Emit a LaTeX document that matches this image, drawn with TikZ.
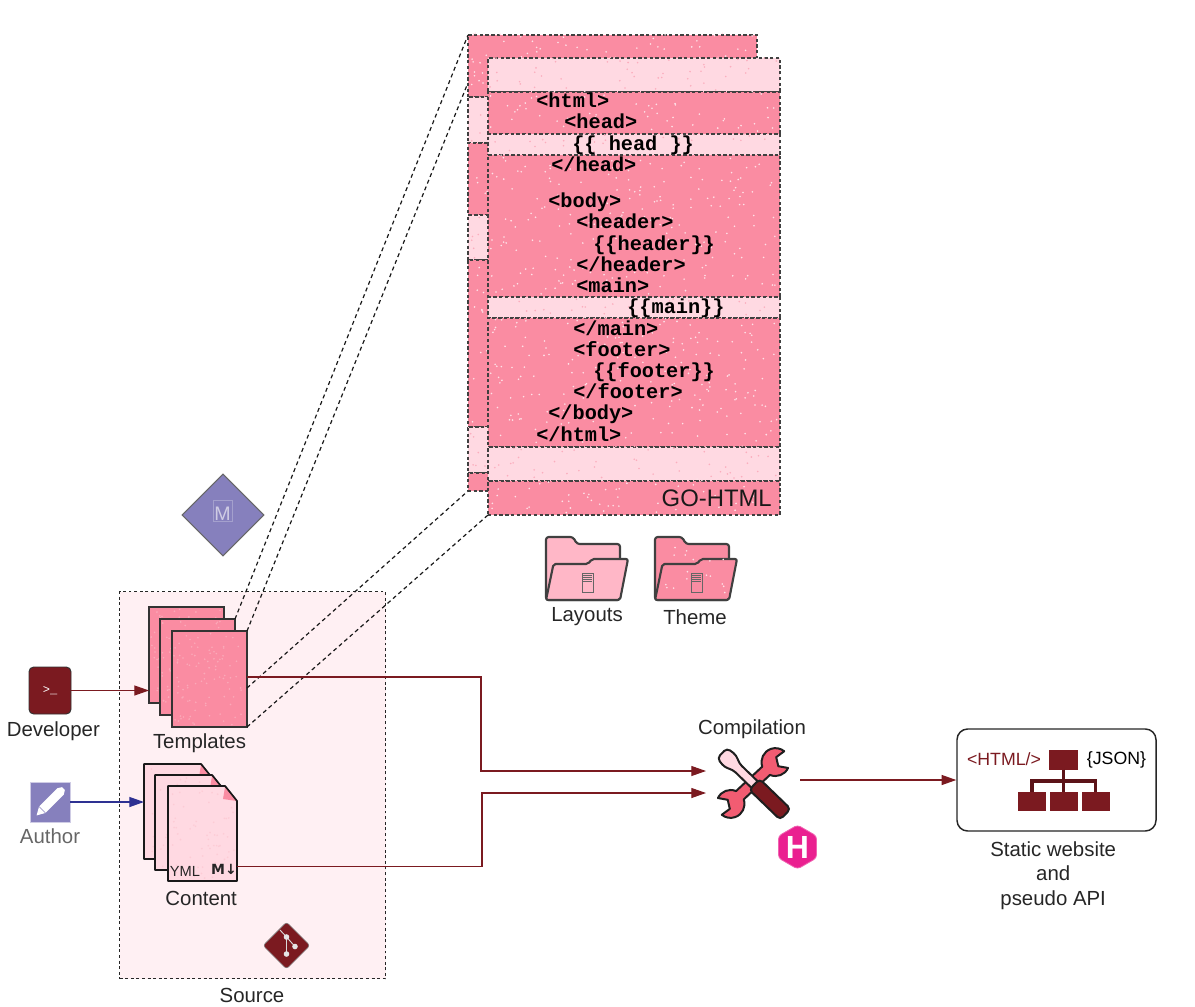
\documentclass[tikz,border=0pt]{standalone}
\usepackage{fontspec}
\setmainfont{Liberation Sans}
\setmonofont{Liberation Mono}
\usetikzlibrary{arrows.meta, positioning, shapes.geometric}

\definecolor{gopink}{HTML}{FA8CA2}
\definecolor{golight}{HTML}{FFD9E2}
\definecolor{foldpink}{HTML}{FFB7C7}
\definecolor{srcfill}{HTML}{FFF0F3}
\definecolor{maroon}{HTML}{7B1A20}
\definecolor{lavender}{HTML}{8680BD}
\definecolor{toolred}{HTML}{F25C72}
\definecolor{hugopink}{HTML}{EA2090}
\definecolor{authblue}{HTML}{2E3192}

\newcommand\unitpx{0.75pt}
% optional density, then x y w h colour
\newcommand\speckle[6][190]{%
  \pgfmathtruncatemacro\dotcount{#4/#1*#5}
  \foreach \i in {1,...,\dotcount}
    \fill[#6] ({#2+rnd*#4},{#3+rnd*#5}) circle (0.9);
}

\begin{document}
\begin{tikzpicture}[
    x=0.75pt, y=-0.75pt,
    lbl/.style={font=\fontsize{15.3}{18}\selectfont, text=black!85, inner sep=0pt},
    smalllbl/.style={font=\fontsize{13.3}{16}\selectfont, inner sep=0pt},
    codeline/.style={font=\fontsize{15.2}{18}\selectfont\ttfamily\bfseries, anchor=base west, inner sep=0pt},
    band/.style={rectangle, draw=black!75, dash pattern=on 2.5pt off 1.8pt,
                 line width=0.8pt, anchor=north west, inner sep=0pt, outer sep=0pt},
    sheet/.style={rectangle, draw=black!80, fill=gopink, line width=1.2pt, anchor=north west,
                  minimum width=75*\unitpx, minimum height=96*\unitpx, inner sep=0pt, outer sep=0pt},
    docbox/.style={rectangle, anchor=north west, minimum width=69*\unitpx,
                   minimum height=95*\unitpx, inner sep=0pt, outer sep=0pt},
    doc/.style={draw=black!90, fill=golight, line width=1.2pt, line join=round},
    link/.style={maroon, line width=0.9pt, -{Triangle[length=11pt, width=7.5pt]}},
    authlink/.style={link, color=authblue},
    ghost/.style={dash pattern=on 3pt off 2.4pt, line width=0.9pt, black!90},
    treebox/.style={rectangle, fill=maroon, inner sep=0pt, outer sep=0pt},
    treeline/.style={maroon!75!black, line width=2.8pt},
    pics/folder/.style={code={
        \draw[black!75, fill=#1, line width=1.6pt, rounded corners=2pt, line join=round]
            (0,0) -- (0,-63) -- (27,-63) -- (31,-56) -- (74,-56) -- (74,0) -- cycle;
        \draw[black!75, fill=#1, line width=1.6pt, rounded corners=1.5pt, line join=round]
            (0,0) -- (7.5,-36) -- (42,-36) -- (46,-41) -- (82,-41) -- (74,0) -- cycle;
        \draw[black!60, line width=0.5pt] (36,-27) rectangle (47,-8);
        \foreach \ln in {-25,-23,-21,-19}
            \draw[black!60, line width=0.5pt] (37,\ln) -- (46,\ln);
    }},
]
    \useasboundingbox (0,0) rectangle (1195,1006);
    \pgfmathsetseed{11}

    % Source area
    \node[rectangle, draw=black!85, fill=srcfill, dash pattern=on 2.2pt off 2pt,
          line width=1pt, anchor=north west, inner sep=0pt,
          minimum width=266*\unitpx, minimum height=387*\unitpx] (source) at (119,591) {};
    \node[lbl] (sourcelbl) at (252,995) {Source};

    % Back sheet
    \foreach \ypos/\hgt/\col/\dotcol/\nm in {35/62/gopink/white!75!gopink/b1, 97/46/golight/gopink!70/b2,
            143/72/gopink/white!75!gopink/b3, 215/45/golight/gopink!70/b4, 260/167/gopink/white!75!gopink/b5,
            427/46/golight/gopink!70/b6, 473/18/gopink/white!75!gopink/b7} {
        \node[band, fill=\col, minimum width=289*\unitpx, minimum height=\hgt*\unitpx] (\nm) at (468,\ypos) {};
        \speckle{470}{\ypos+2}{285}{\hgt-4}{\dotcol}
    }

    % Front sheet
    \foreach \ypos/\hgt/\col/\dotcol/\nm in {58/34/golight/gopink!70/f1, 92/42/gopink/white!75!gopink/f2,
            134/21/golight/gopink!70/f3, 155/142/gopink/white!75!gopink/f4, 297/21/golight/gopink!70/f5,
            318/129/gopink/white!75!gopink/f6, 447/34/golight/gopink!70/f7, 481/34/gopink/white!75!gopink/f8} {
        \node[band, fill=\col, minimum width=292*\unitpx, minimum height=\hgt*\unitpx] (\nm) at (488,\ypos) {};
        \speckle{490}{\ypos+2}{288}{\hgt-4}{\dotcol}
    }

    \node[codeline] (cl1) at (536,107.5) {<html>};
    \node[codeline] (cl2) at (564,128.5) {<head>};
    \node[codeline] (cl3) at (572,150.5) {\{\{ head \}\}};
    \node[codeline] (cl4) at (551,171.5) {</head>};
    \node[codeline] (cl5) at (548,207.5) {<body>};
    \node[codeline] (cl6) at (576,228.5) {<header>};
    \node[codeline] (cl7) at (593,250.5) {\{\{header\}\}};
    \node[codeline] (cl8) at (576,271.5) {</header>};
    \node[codeline] (cl9) at (576,292.5) {<main>};
    \node[codeline] (cl10) at (627,313.5) {\{\{main\}\}};
    \node[codeline] (cl11) at (573,335.5) {</main>};
    \node[codeline] (cl12) at (573,356.5) {<footer>};
    \node[codeline] (cl13) at (593,377.5) {\{\{footer\}\}};
    \node[codeline] (cl14) at (573,398.5) {</footer>};
    \node[codeline] (cl15) at (548,419.5) {</body>};
    \node[codeline] (cl16) at (536,441.5) {</html>};
    \node[font=\fontsize{17.9}{20}\selectfont, text=black!90, anchor=east, inner sep=0pt] (gohtml) at (772,498) {GO-HTML};

    % Folders
    \pic (layoutsdir) at (546,600) {folder=foldpink};
    \pic (themedir) at (655,600) {folder=gopink};
    \speckle[120]{665}{547}{60}{15}{white!75!gopink}
    \speckle[120]{664}{569}{26}{27}{white!75!gopink}
    \speckle[120]{704}{569}{23}{27}{white!75!gopink}
    \node[lbl] (layoutslbl) at (587,616.5) {Layouts};
    \node[lbl] (themelbl) at (695,617) {Theme};

    % Merge diamond
    \node[diamond, aspect=1, draw=black!60, fill=lavender, line width=0.8pt, inner sep=0pt,
          minimum size=82*\unitpx] (merge) at (223,515) {};
    \node[rectangle, draw=white!25!lavender, line width=0.2pt, minimum width=19*\unitpx, minimum height=21*\unitpx,
          inner sep=0pt] (mergebox) at (222.5,511) {};
    \node[font=\fontsize{14.7}{16}\selectfont, text=white!60!lavender, inner sep=0pt] (mergelbl) at (222.5,513.5) {M};

    % Templates
    \foreach \x/\y/\nm in {149/607/tpl1, 160/619/tpl2, 172/631/tpl3} {
        \node[sheet] (\nm) at (\x,\y) {};
        \speckle[70]{\x+2}{\y+2}{71}{92}{white!25!gopink}
    }
    \node[lbl, below=4.5pt of tpl3, xshift=-7.5pt] (tpllbl) {Templates};

    % Content
    \foreach \x/\y/\nm in {144/764/cnt1, 155/775/cnt2, 168/786/cnt3} {
        \node[docbox] (\nm) at (\x,\y) {};
        \draw[doc] (\x,\y) -- ++(57,0) -- ++(12,15) -- ++(0,80) -- ++(-69,0) -- cycle;
        \speckle[90]{\x+3}{\y+17}{63}{75}{gopink!45}
        \speckle[90]{\x+3}{\y+3}{50}{14}{gopink!45}
        \fill[gopink] (\x+57,\y+1) -- (\x+69,\y+15) -- (\x+55,\y+13) -- cycle;
        \draw[black!90, line width=1.2pt] (\x+57,\y) -- (\x+69,\y+15);
    }
    \node[lbl, below=7.5pt of cnt3, xshift=-1pt] (cntlbl) {Content};
    \node[font=\fontsize{11}{12}\selectfont, text=black!85, inner sep=0pt] (yml) at (185,871) {YML};
    \node[font=\fontsize{10.5}{12}\selectfont, inner sep=0pt, text=black!85] (mdown) at (224,869)
        {\fontspec{DejaVu Sans Bold}M↓};

    % Git
    \node[diamond, aspect=1, fill=maroon, draw=black!50, rounded corners=2pt, inner sep=0pt,
          minimum size=47*\unitpx] (git) at (286.5,945.5) {};
    \draw[white!85!black, line width=0.7pt] (280,930) -- (286.5,937) -- (286.5,954) (286.5,937) -- (295,946.5);
    \fill[white!90!black] (286.5,937) circle (2.8) (286.5,954) circle (2.8) (295,946.5) circle (2.8);

    % People
    \node[rectangle, draw=black!80, fill=maroon, rounded corners=3.5pt, line width=0.7pt, inner sep=0pt,
          minimum width=42*\unitpx, minimum height=47*\unitpx, text=white,
          font=\fontsize{9}{10}\selectfont\ttfamily] (devicon) at (50,690.5) {>\_};
    \node[lbl, below=5.5pt of devicon, xshift=2.5pt] (devlbl) {Developer};
    \node[rectangle, fill=lavender, draw=white!60!lavender, line width=0.3pt, inner sep=0pt,
          minimum size=40*\unitpx] (authicon) at (50,802) {};
    \begin{scope}[shift={(50,802)}, rotate=45]
        \fill[white] (-19,0) -- (-11,-4.5) -- (15,-4.5) -- (19,-2) -- (19,2) -- (15,4.5) -- (-11,4.5) -- cycle;
        \draw[lavender, line width=0.4pt] (-11,-4.5) -- (-11,4.5);
    \end{scope}
    \node[lbl, text=black!60, below=5pt of authicon] (authlbl) {Author};

    % Compilation tools
    \node[rectangle, inner sep=0pt, outer sep=0pt, minimum width=94*\unitpx, minimum height=80*\unitpx] (comp) at (753,782) {};
    \node[lbl] (complbl) at (752,729.5) {Compilation};
    \begin{scope}[shift={(753,783)}, rotate=43, scale=0.93]
        \draw[black!88, fill=toolred, line width=1.5pt, line join=round]
            (-19.3,-6.1) -- (19.3,-6.1) arc[start angle=-156, end angle=-8, radius=15]
            -- (37.2,-3.33) -- (32.2,5.33) -- (38.6,13.9) arc[start angle=68, end angle=156, radius=15]
            -- (-19.3,6.1) arc[start angle=24, end angle=172, radius=15]
            -- (-37.2,3.33) -- (-32.2,-5.33) -- (-38.6,-13.9) arc[start angle=248, end angle=336, radius=15] -- cycle;
    \end{scope}
    \begin{scope}[shift={(753,783)}, rotate=-44]
        \draw[black!88, fill=golight, line width=1.5pt, rounded corners=3pt, line join=round]
            (6,-4.5) -- (-24,-4.5) -- (-31,-8.5) -- (-43,-7) -- (-43,7) -- (-31,8.5) -- (-24,4.5) -- (6,4.5) -- cycle;
        \draw[black!88, fill=maroon, line width=1.5pt, rounded corners=3pt] (2,-7.5) rectangle (45,7.5);
    \end{scope}
    \node[regular polygon, regular polygon sides=6, regular polygon rotate=30,
          fill=hugopink, draw=hugopink!70, line width=0.6pt,
          rounded corners=2.5pt, inner sep=0pt, minimum size=44*\unitpx, text=white,
          font=\fontsize{24}{26}\selectfont\bfseries] (hugo) at (797.5,847) {H};

    % Static website
    \node[rectangle, draw=black!85, rounded corners=8pt, line width=1.1pt, inner sep=0pt, fill=white,
          minimum width=199*\unitpx, minimum height=102*\unitpx] (site) at (1056.5,780) {};
    \node[smalllbl, text=maroon] (htmllbl) at (1004,759) {<HTML/>};
    \node[smalllbl, text=black] (jsonlbl) at (1116.5,760) {\{JSON\}};
    \node[treebox, minimum width=29*\unitpx, minimum height=20*\unitpx] (hubtop) at (1063.5,759.5) {};
    \draw[treeline] (hubtop.south) -- ++(0,22);
    \draw[treeline] (hubtop.south) -- ++(0,11.5) -- ++(-31.5,0) -- ++(0,11);
    \draw[treeline] (hubtop.south) -- ++(0,11.5) -- ++(32,0) -- ++(0,11);
    \node[treebox, minimum width=28*\unitpx, minimum height=19*\unitpx] (hubl) at (1032,801) {};
    \node[treebox, minimum width=28*\unitpx, minimum height=19*\unitpx] (hubm) at (1064,801) {};
    \node[treebox, minimum width=28*\unitpx, minimum height=19*\unitpx] (hubr) at (1095.5,801) {};
    \node[lbl, align=center, font=\fontsize{15.3}{18.4}\selectfont, below=7pt of site, xshift=-2.5pt] (sitelbl) {Static website\\and\\pseudo API};

    % Ghost lines to the sheets
    \coordinate (ghostend) at (467.5,84);
    \draw[ghost] (tpl2.north east) -- (b1.north west);
    \draw[ghost] (tpl3.north east) -- (ghostend);
    \draw[ghost] ([yshift=-6.75pt]tpl3.east) -- (b7.south west);
    \draw[ghost] (tpl3.south east) -- (f8.south west);

    % Connectors
    \coordinate (jogtop) at (481,771);
    \coordinate (joglow) at (482,793);
    \draw[link] (devicon.east) -- (devicon.east -| tpl1.west);
    \draw[authlink] (authicon.east) -- (authicon.east -| cnt1.west);
    \draw[link, line width=0.8pt] ([yshift=1.5pt]tpl3.east) -| (jogtop) -- ([yshift=8.25pt]comp.west);
    \draw[link, line width=0.8pt] ([yshift=-24.4pt]cnt3.east) -| (joglow) -- ([yshift=-8.25pt]comp.west);
    \draw[link] (comp.east |- site.west) -- (site.west);
\end{tikzpicture}
\end{document}
